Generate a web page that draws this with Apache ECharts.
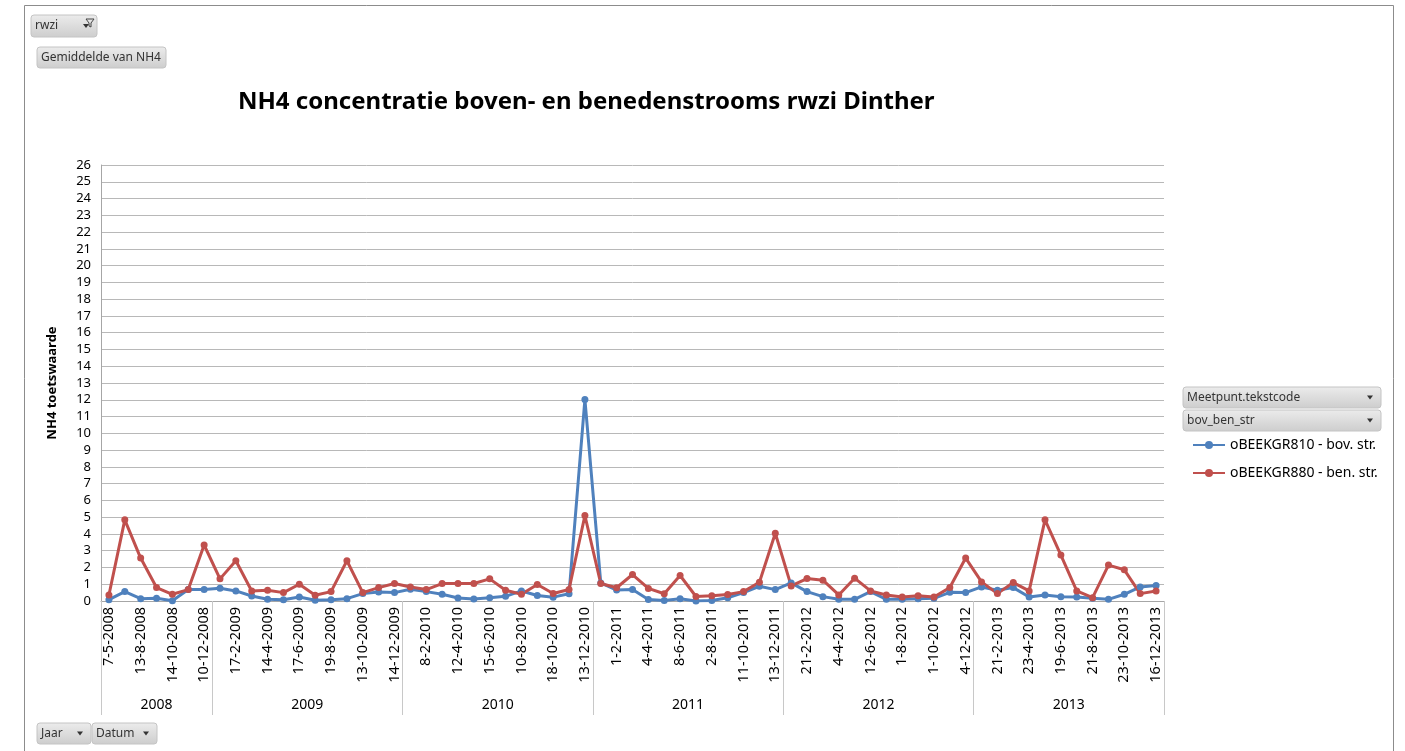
<!DOCTYPE html>
<html>
<head>
<meta charset="utf-8">
<script src="https://cdn.jsdelivr.net/npm/echarts@6/dist/echarts.min.js"></script>
<style>
html,body{margin:0;padding:0;background:#fff;}
#chart{width:1405px;height:751px;}
</style>
</head>
<body>
<div id="chart"></div>
<script>
// ---- data ----
var categories = [
  '7-5-2008','9-7-2008','13-8-2008','17-9-2008','14-10-2008','12-11-2008','10-12-2008',
  '13-1-2009','17-2-2009','17-3-2009','14-4-2009','13-5-2009','17-6-2009','15-7-2009','19-8-2009','16-9-2009','13-10-2009','17-11-2009','14-12-2009',
  '12-1-2010','8-2-2010','9-3-2010','12-4-2010','11-5-2010','15-6-2010','13-7-2010','10-8-2010','14-9-2010','18-10-2010','16-11-2010','13-12-2010',
  '11-1-2011','1-2-2011','8-3-2011','4-4-2011','10-5-2011','8-6-2011','5-7-2011','2-8-2011','6-9-2011','11-10-2011','8-11-2011','13-12-2011',
  '17-1-2012','21-2-2012','13-3-2012','4-4-2012','8-5-2012','12-6-2012','3-7-2012','1-8-2012','4-9-2012','1-10-2012','6-11-2012','4-12-2012',
  '22-1-2013','21-2-2013','20-3-2013','23-4-2013','22-5-2013','19-6-2013','17-7-2013','21-8-2013','18-9-2013','23-10-2013','20-11-2013','16-12-2013'
];
var years = ['2008','2009','2010','2011','2012','2013'];
var yearCounts = [7,12,12,12,12,12];
var bovStr = [
  0.08,0.56,0.14,0.16,0.02,0.68,0.68,
  0.76,0.6,0.3,0.1,0.08,0.24,0.04,0.08,0.14,0.44,0.54,0.5,
  0.7,0.56,0.4,0.18,0.12,0.2,0.28,0.6,0.33,0.23,0.43,12.02,
  1.08,0.65,0.69,0.09,0.03,0.13,0.0,0.03,0.19,0.5,0.88,0.68,
  1.08,0.56,0.26,0.1,0.1,0.56,0.1,0.1,0.14,0.16,0.52,0.5,
  0.84,0.64,0.8,0.24,0.36,0.26,0.24,0.16,0.1,0.4,0.84,0.92
];
var benStr = [
  0.36,4.84,2.56,0.8,0.4,0.68,3.34,
  1.32,2.4,0.6,0.64,0.5,1.0,0.34,0.56,2.4,0.5,0.8,1.04,
  0.84,0.68,1.04,1.04,1.04,1.32,0.64,0.4,0.98,0.45,0.69,5.1,
  1.04,0.79,1.58,0.75,0.43,1.52,0.27,0.31,0.39,0.56,1.12,4.04,
  0.9,1.34,1.24,0.36,1.36,0.6,0.36,0.24,0.32,0.24,0.8,2.56,
  1.14,0.44,1.1,0.6,4.84,2.74,0.6,0.2,2.14,1.86,0.44,0.6
];
var seriesNames = ['oBEEKGR810 - bov. str.','oBEEKGR880 - ben. str.'];
var titleText = 'NH4 concentratie boven- en benedenstrooms rwzi Dinther';
var yAxisName = 'NH4 toetswaarde';

// ---- year group axis (half-category slots) ----
var slotYears = [], boundarySlots = [0], centerSlots = {};
(function(){
  var start = 0;
  for (var g = 0; g < years.length; g++) {
    var end = start + yearCounts[g];
    centerSlots[start + end] = years[g];
    boundarySlots.push(end * 2);
    start = end;
  }
  for (var s = 0; s <= categories.length * 2; s++) slotYears.push(centerSlots[s] || '');
})();

var FONT = 'Noto Sans';
function button(x, y, w, h, label, arrow) {
  var children = [
    {type:'rect', shape:{x:0,y:0,width:w,height:h,r:3},
     style:{fill:{type:'linear',x:0,y:0,x2:0,y2:1,colorStops:[{offset:0,color:'#ececec'},{offset:1,color:'#cdcdcd'}]},stroke:'#c4c4c4',lineWidth:1}},
    {type:'text', x:4, y:h/2, style:{text:label, fill:'#333', font:'12px "Noto Sans"', verticalAlign:'middle'}}
  ];
  if (arrow) {
    children.push({type:'polygon', shape:{points:[[w-14,h/2-2],[w-8,h/2-2],[w-11,h/2+2]]}, style:{fill:'#333'}});
  }
  return {type:'group', x:x, y:y, children:children};
}

var chart = echarts.init(document.getElementById('chart'));
chart.setOption({
  animation:false,
  backgroundColor:'#fff',
  title:{text:titleText, left:233, top:85, textStyle:{fontFamily:FONT, fontSize:24, fontWeight:'bold', color:'#000'}},
  legend:{
    orient:'vertical', left:1187, top:433, itemGap:14, itemWidth:32, itemHeight:10,
    data:seriesNames,
    textStyle:{fontFamily:FONT, fontSize:14, color:'#000'}
  },
  grid:{left:101, right:241, top:165, bottom:150},
  xAxis:[
    {type:'category', data:categories, boundaryGap:true,
     axisLine:{show:true, lineStyle:{color:'#a6a6a6'}},
     axisTick:{show:false},
     axisLabel:{interval:1, rotate:90, fontFamily:FONT, fontSize:14.5, color:'#000', margin:6}},
    {type:'category', data:slotYears, boundaryGap:false, position:'bottom',
     axisLine:{show:false},
     axisTick:{show:true, length:114, lineStyle:{color:'#c8c8c8'},
       interval:function(i){return boundarySlots.indexOf(i) >= 0;}},
     axisLabel:{show:true, fontFamily:FONT, fontSize:14, color:'#000', margin:97,
       interval:function(i, v){return v !== '';}}}
  ],
  yAxis:{type:'value', min:0, max:26, interval:1,
    name:yAxisName, nameLocation:'middle', nameGap:42, nameRotate:90,
    nameTextStyle:{fontFamily:FONT, fontSize:13, fontWeight:'bold', color:'#000'},
    axisLine:{show:true, lineStyle:{color:'#a6a6a6'}},
    axisTick:{show:false},
    axisLabel:{fontFamily:FONT, fontSize:13, color:'#000', margin:10},
    splitLine:{lineStyle:{color:'#b8b8b8'}}},
  series:[
    {name:seriesNames[0], type:'line', data:bovStr, xAxisIndex:0, symbol:'circle', symbolSize:7,
     itemStyle:{color:'#4F81BD'}, lineStyle:{color:'#4F81BD', width:3}},
    {name:seriesNames[1], type:'line', data:benStr, xAxisIndex:0, symbol:'circle', symbolSize:7,
     itemStyle:{color:'#C0504D'}, lineStyle:{color:'#C0504D', width:3}}
  ],
  graphic:[
    {type:'rect', shape:{x:24.5, y:5.5, width:1369, height:800}, style:{fill:'none', stroke:'#8c8c8c', lineWidth:1}, silent:true},
    button(31, 15, 66, 22, 'rwzi', true),
    {type:'polygon', shape:{points:[[86,19],[94,19],[91,23],[91,27],[89,26],[89,23]]}, style:{fill:'none', stroke:'#444', lineWidth:1}},
    button(37, 47, 129, 21, 'Gemiddelde van NH4', false),
    button(1183, 387, 198, 21, 'Meetpunt.tekstcode', true),
    button(1183, 410, 198, 21, 'bov_ben_str', true),
    button(37, 723, 54, 21, 'Jaar', true),
    button(92, 723, 65, 21, 'Datum', true)
  ]
});
</script>
</body>
</html>
